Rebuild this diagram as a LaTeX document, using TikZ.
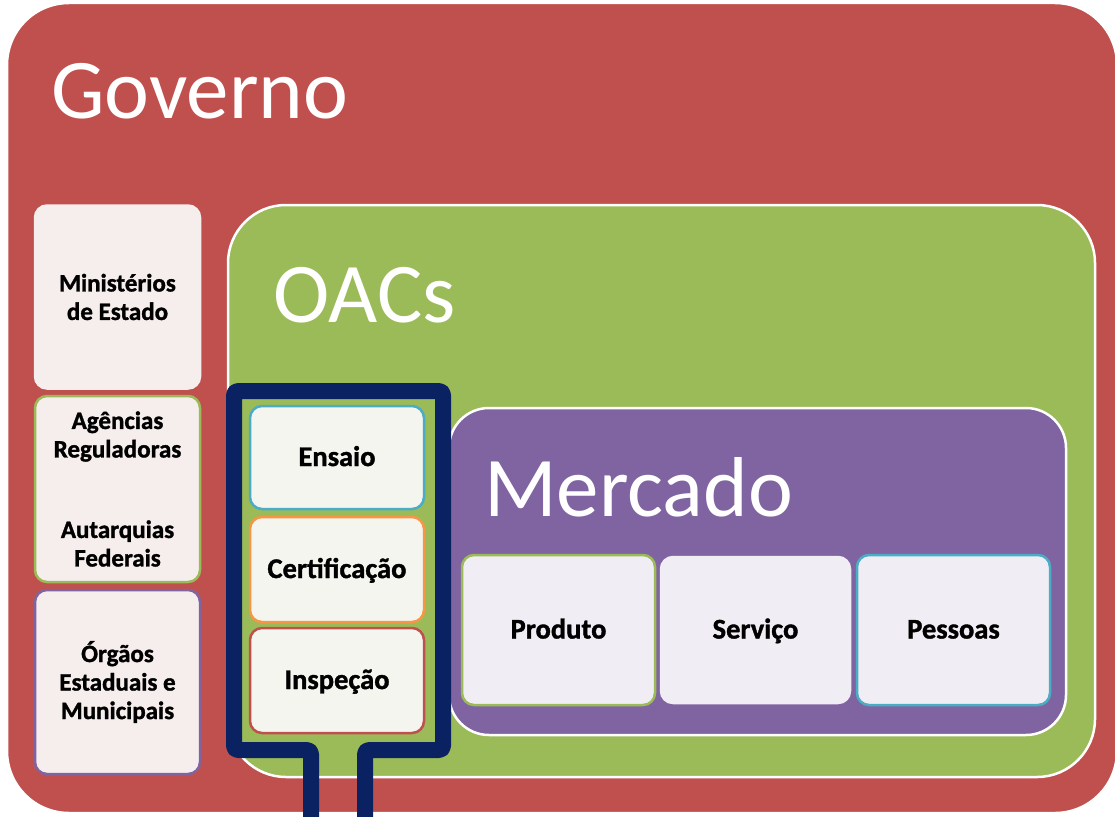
\documentclass[tikz,border=0pt]{standalone}
\usepackage{fontspec}
\setmainfont{Carlito}[BoldFeatures={FakeBold=1.3}]
\definecolor{gred}{HTML}{C0504D}
\definecolor{ggreen}{HTML}{9BBB59}
\definecolor{gpurple}{HTML}{8064A2}
\definecolor{gteal}{HTML}{4BACC6}
\definecolor{gorange}{HTML}{F79646}
\definecolor{gnavy}{HTML}{0B2262}
\definecolor{fillred}{HTML}{F6EDED}
\definecolor{fillgreen}{HTML}{F3F5EE}
\definecolor{fillpurple}{HTML}{F0EEF4}
\tikzset{
  bigbox/.style={draw=white, line width=2.5pt, inner sep=0pt},
  heading/.style={text=white, font=\fontsize{85}{92}\selectfont, anchor=base west, inner sep=0pt},
  smallbox/.style={rounded corners=12pt, line width=2.5pt, inner sep=0pt, align=center,
     font=\fontsize{25}{28.5}\selectfont\bfseries},
  cellbox/.style={rounded corners=12pt, line width=2.5pt, inner sep=0pt, align=center,
     text height=20pt, text depth=3pt,
     font=\fontsize{28.5}{30}\selectfont\bfseries},
  navyframe/.style={draw=gnavy, line width=16pt, rounded corners=4pt, line join=round}
}
\begin{document}
\begin{tikzpicture}[x=1pt,y=-1pt]
\useasboundingbox (0,0) rectangle (1115,816);
\fill[white] (0,0) rectangle (1115,816);
% Governo
\node[bigbox, fill=gred, rounded corners=62pt, minimum width=1110pt, minimum height=810pt] (gov) at (562,408) {};
\node[heading] (govt) at (51,118) {Governo};
% left boxes
\node[smallbox, fill=fillred, draw=fillred, minimum width=165pt, minimum height=183pt] (min) at (117.5,297) {Ministérios\\de Estado};
\node[smallbox, fill=fillred, draw=ggreen, minimum width=165pt, minimum height=186pt] (age) at (117.5,489) {Agências\\Reguladoras\\[52pt]Autarquias\\Federais};
\node[smallbox, fill=fillred, draw=gpurple, minimum width=165pt, minimum height=184pt] (org) at (117.5,682) {Órgãos\\Estaduais e\\Municipais};
% OACs
\node[bigbox, fill=ggreen, rounded corners=58pt, minimum width=867pt, minimum height=572pt] (oac) at (661.5,491) {};
\node[heading] (oact) at (273,322) {OACs};
% OAC boxes
\node[cellbox, fill=fillgreen, draw=gteal, minimum width=174pt, minimum height=103pt] (ens) at (337,457.5) {Ensaio};
\node[cellbox, fill=fillgreen, draw=gorange, minimum width=174pt, minimum height=105pt] (cer) at (337,569.5) {Certificação};
\node[cellbox, fill=fillgreen, draw=gred, minimum width=174pt, minimum height=105pt] (ins) at (337,680.5) {Inspeção};
% Mercado
\node[bigbox, fill=gpurple, rounded corners=40pt, minimum width=617pt, minimum height=327pt] (mer) at (757.5,571.5) {};
\node[heading] (mert) at (484,516) {Mercado};
\node[cellbox, fill=fillpurple, draw=ggreen, minimum width=193pt, minimum height=150pt] (pro) at (558.5,630) {Produto};
\node[cellbox, fill=fillpurple, draw=fillpurple, minimum width=189pt, minimum height=146pt] (ser) at (755.5,630) {Serviço};
\node[cellbox, fill=fillpurple, draw=gteal, minimum width=193pt, minimum height=150pt] (pes) at (953.5,630) {Pessoas};
% navy frame
\draw[navyframe] (311,822) -- (311,750) -- (234,750) -- (234,391) -- (443,391) -- (443,750) -- (365,750) -- (365,822);
\end{tikzpicture}
\end{document}
